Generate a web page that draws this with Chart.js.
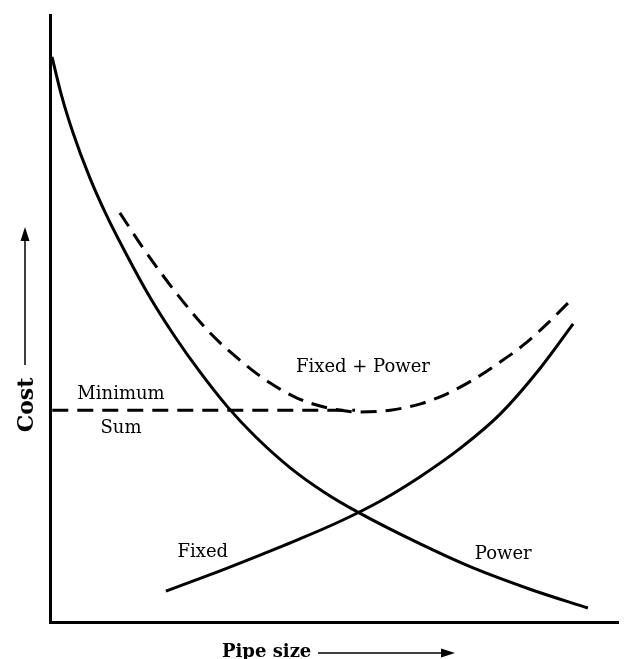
<!DOCTYPE html>
<html>
<head>
<meta charset="utf-8">
<script src="https://cdn.jsdelivr.net/npm/chart.js@4"></script>
<style>
  html, body { margin: 0; padding: 0; background: #fff; }
  #wrap { width: 633px; height: 659px; }
</style>
</head>
<body>
<div id="wrap"><canvas id="costChart"></canvas></div>
<script>
// values (arbitrary units, 0..100 on both axes)
var powerX = [0.35, 2.1, 4.05, 7.0, 10.0, 13.6, 17.6, 22.0, 26.4, 31.3, 36.1, 42.3, 48.4, 54.2, 65.1, 74.5, 84.5, 94.7];
var powerY = [93.1, 86.5, 80.6, 73.2, 66.9, 60.3, 53.5, 47.0, 41.2, 35.4, 30.6, 25.4, 21.3, 18.1, 12.9, 8.9, 5.4, 2.3];

var fixedX = [20.4, 28.2, 36.1, 44.0, 51.1, 58.1, 65.1, 72.2, 79.2, 86.3, 92.1];
var fixedY = [5.1, 7.8, 10.7, 13.7, 16.6, 19.9, 23.9, 28.6, 34.2, 41.8, 49.1];

var sumX = [12.3, 16.4, 22.4, 28.2, 34.0, 38.7, 43.5, 48.8, 54.6, 59.9, 65.1, 69.9, 74.5, 79.2, 83.3, 87.5, 92.1];
var sumY = [67.4, 61.6, 54.0, 47.6, 42.7, 39.4, 36.9, 35.3, 34.6, 34.9, 35.9, 37.6, 39.9, 42.8, 45.6, 49.1, 53.4];

var minLineX = [0.4, 53.7];
var minLineY = [34.9, 34.9];

var labelText = ['Fixed + Power', 'Minimum', 'Sum', 'Fixed', 'Power'];
var labelX = [55.1, 12.5, 12.5, 26.9, 79.8];
var labelY = [41.2, 36.7, 31.1, 10.7, 10.4];

var xTitle = 'Pipe size';
var yTitle = 'Cost';

function toPoints(xs, ys) {
    return xs.map(function(x, i) { return { x: x, y: ys[i] }; });
}

var serif = '"DejaVu Serif", serif';

// line with a filled arrow head at (x2, y2)
function arrow(ctx, x1, y1, x2, y2) {
    var ang = Math.atan2(y2 - y1, x2 - x1);
    var head = 14, half = 4.5;
    var bx = x2 - head * Math.cos(ang), by = y2 - head * Math.sin(ang);
    ctx.beginPath();
    ctx.moveTo(x1, y1);
    ctx.lineTo(bx, by);
    ctx.lineWidth = 1.5;
    ctx.stroke();
    ctx.beginPath();
    ctx.moveTo(x2, y2);
    ctx.lineTo(bx - half * Math.sin(ang), by + half * Math.cos(ang));
    ctx.lineTo(bx + half * Math.sin(ang), by - half * Math.cos(ang));
    ctx.closePath();
    ctx.fill();
}

var textPlugin = {
    id: 'textPlugin',
    afterDraw: function(chart) {
        var ctx = chart.ctx;
        var xs = chart.scales.x, ys = chart.scales.y;
        var area = chart.chartArea;
        ctx.save();
        ctx.fillStyle = '#000';
        ctx.strokeStyle = '#000';

        // curve labels
        ctx.font = '18px ' + serif;
        ctx.textAlign = 'center';
        ctx.textBaseline = 'alphabetic';
        labelText.forEach(function(t, i) {
            ctx.fillText(t, xs.getPixelForValue(labelX[i]), ys.getPixelForValue(labelY[i]));
        });

        // x axis title with arrow
        ctx.font = 'bold 18px ' + serif;
        ctx.textAlign = 'left';
        ctx.fillText(xTitle, area.left + 172, area.bottom + 35);
        arrow(ctx, area.left + 268, area.bottom + 31, area.left + 405, area.bottom + 31);

        // y axis title (rotated) with arrow
        ctx.save();
        ctx.font = 'bold 22px ' + serif;
        ctx.textAlign = 'center';
        ctx.translate(area.left - 17, area.bottom - 217);
        ctx.rotate(-Math.PI / 2);
        ctx.fillText(yTitle, 0, 0);
        ctx.restore();
        arrow(ctx, area.left - 25, area.bottom - 257, area.left - 25, area.bottom - 395);

        ctx.restore();
    }
};

var lineStyle = {
    borderColor: '#000',
    borderWidth: 3,
    pointRadius: 0,
    fill: false,
    cubicInterpolationMode: 'monotone',
    clip: false
};

var ctx = document.getElementById('costChart').getContext('2d');
var costChart = new Chart(ctx, {
    type: 'line',
    data: {
        datasets: [
            Object.assign({}, lineStyle, { label: 'Power', data: toPoints(powerX, powerY) }),
            Object.assign({}, lineStyle, { label: 'Fixed', data: toPoints(fixedX, fixedY) }),
            Object.assign({}, lineStyle, { label: 'Fixed + Power', data: toPoints(sumX, sumY), borderDash: [16, 9] }),
            Object.assign({}, lineStyle, { label: 'Minimum Sum', data: toPoints(minLineX, minLineY), borderDash: [16, 9], cubicInterpolationMode: 'default', tension: 0 })
        ]
    },
    options: {
        responsive: true,
        maintainAspectRatio: false,
        animation: false,
        layout: {
            padding: { left: 50, top: 15, right: 15, bottom: 37 }
        },
        plugins: {
            legend: { display: false },
            tooltip: { enabled: false }
        },
        scales: {
            x: {
                type: 'linear',
                min: 0,
                max: 100,
                ticks: { display: false },
                grid: { display: false, drawTicks: false },
                border: { display: true, color: '#000', width: 3 },
                afterFit: function(scale) { scale.height = 0; }
            },
            y: {
                type: 'linear',
                min: 0,
                max: 100,
                ticks: { display: false },
                grid: { display: false, drawTicks: false },
                border: { display: true, color: '#000', width: 3 },
                afterFit: function(scale) { scale.width = 0; }
            }
        }
    },
    plugins: [textPlugin]
});
</script>
</body>
</html>
